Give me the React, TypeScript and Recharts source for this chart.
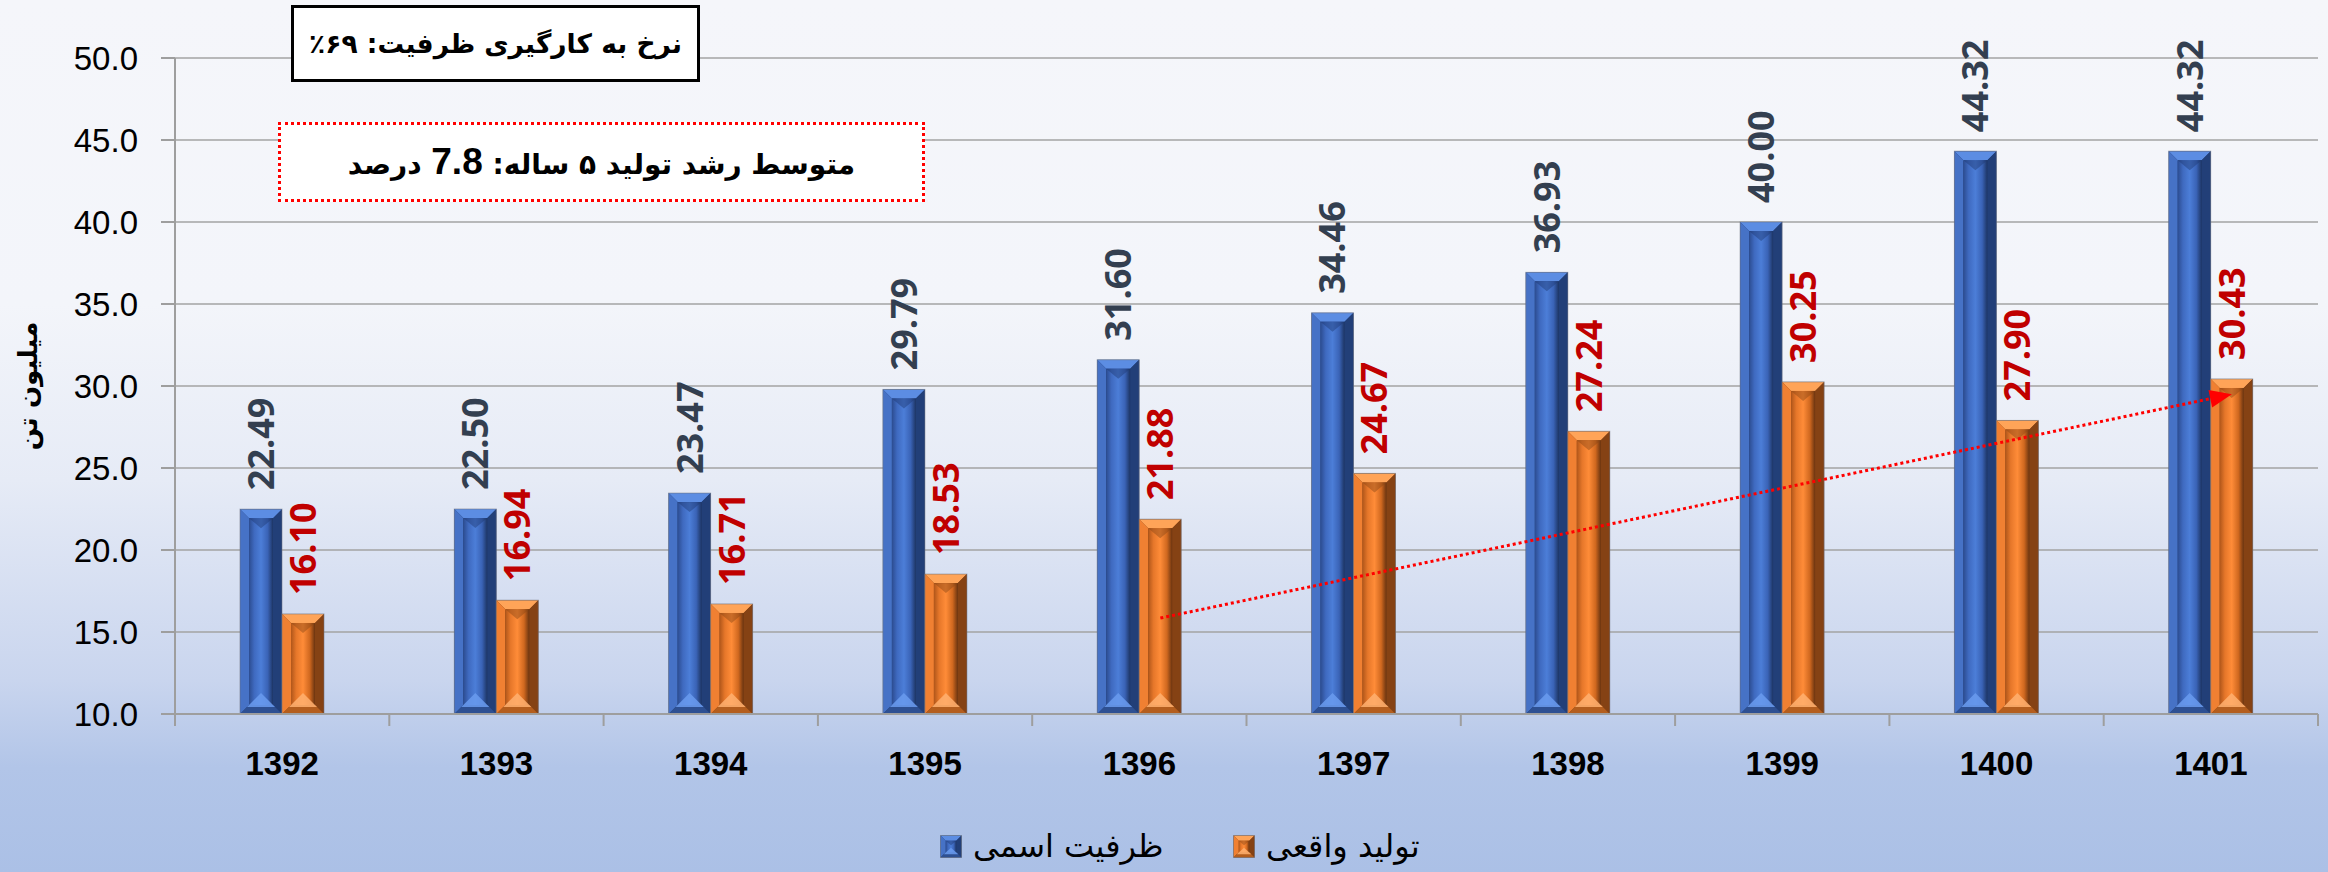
import React from 'react';
import { BarChart, Bar, XAxis, YAxis, CartesianGrid, LabelList, ReferenceLine } from 'recharts';

const categories = ['1392', '1393', '1394', '1395', '1396', '1397', '1398', '1399', '1400', '1401'];
const nominalCapacity = [22.49, 22.5, 23.47, 29.79, 31.6, 34.46, 36.93, 40.0, 44.32, 44.32];
const actualProduction = [16.1, 16.94, 16.71, 18.53, 21.88, 24.67, 27.24, 30.25, 27.9, 30.43];
const yTicks = [10, 15, 20, 25, 30, 35, 40, 45, 50];
const seriesNames = ['ظرفیت اسمی', 'تولید واقعی'];
const yAxisTitle = 'میلیون تن';
const trendFrom = { year: '1396', value: 15.85 };
const trendTo = { year: '1401', value: 29.5 };
const rateText = 'نرخ به کارگیری ظرفیت: ۶۹٪';
const growthPrefix = 'متوسط رشد تولید ۵ ساله: ';
const growthValue = '7.8';
const growthSuffix = ' درصد';

const data = categories.map((c, i) => ({ year: c, nominal: nominalCapacity[i], actual: actualProduction[i] }));

const W = 2328;
const H = 872;
const M = { top: 58, right: 10, left: 0, bottom: 0 };
const Y_AXIS_W = 175;
const X_AXIS_H = 158;
const BAR = 42;
const BAND = (W - Y_AXIS_W - M.right) / categories.length;

const PERSIAN = "'DejaVu Sans', 'Noto Sans', sans-serif";
const LATIN = "'Liberation Sans', Arial, sans-serif";
const LABEL_FONT = "'Open Sans', 'Liberation Sans', sans-serif";

type Palette = {
  stops: string[];
  top: string;
  left: string;
  right: string;
  bottom: string;
  glow: string;
  shade: string;
};

const BLUE: Palette = {
  stops: ['#2C4C90', '#3F6AC0', '#4C7ED8', '#3A63B6', '#1D3564'],
  top: '#5C8DE3',
  left: '#4672C6',
  right: '#223F78',
  bottom: '#2E5092',
  glow: '#6A9BEF',
  shade: '#1E3A73',
};
const ORANGE: Palette = {
  stops: ['#B0561A', '#E6772A', '#FF8C38', '#D0681F', '#6A3410'],
  top: '#FFA458',
  left: '#F08032',
  right: '#854214',
  bottom: '#B45E1E',
  glow: '#FFB070',
  shade: '#8A4616',
};

const BevelRect = ({ x, y, width: w, height: h, pal, id }: any) => {
  if (!(w > 0) || !(h > 0)) return null;
  const b = Math.min(9, w / 4, h / 4);
  const gid = `g-${id}`;
  return (
    <g>
      <defs>
        <linearGradient id={gid} x1="0" y1="0" x2="1" y2="0">
          <stop offset="0%" stopColor={pal.stops[0]} />
          <stop offset="22%" stopColor={pal.stops[1]} />
          <stop offset="50%" stopColor={pal.stops[2]} />
          <stop offset="78%" stopColor={pal.stops[3]} />
          <stop offset="100%" stopColor={pal.stops[4]} />
        </linearGradient>
      </defs>
      <rect x={x} y={y} width={w} height={h} fill={pal.right} />
      <polygon points={`${x},${y} ${x + w},${y} ${x + w - b},${y + b} ${x + b},${y + b}`} fill={pal.top} />
      <polygon points={`${x},${y} ${x + b},${y + b} ${x + b},${y + h - b} ${x},${y + h}`} fill={pal.left} />
      <polygon points={`${x + w},${y} ${x + w},${y + h} ${x + w - b},${y + h - b} ${x + w - b},${y + b}`} fill={pal.right} />
      <polygon points={`${x},${y + h} ${x + b},${y + h - b} ${x + w - b},${y + h - b} ${x + w},${y + h}`} fill={pal.bottom} />
      <rect x={x + b} y={y + b} width={w - 2 * b} height={h - 2 * b} fill={`url(#${gid})`} />
      <polygon
        points={`${x + b},${y + b} ${x + w - b},${y + b} ${x + w / 2},${y + b + Math.min(10, h / 5)}`}
        fill={pal.shade}
        opacity={0.45}
      />
      <polygon
        points={`${x + b - 2},${y + h - b + 2} ${x + w / 2},${y + h - b - Math.min(12, h / 5)} ${x + w - b + 2},${y + h - b + 2}`}
        fill={pal.glow}
        opacity={0.85}
      />
      <rect x={x} y={y} width={w} height={h} fill="none" stroke="#6E7280" strokeOpacity={0.55} strokeWidth={1} />
    </g>
  );
};

const BlueBar = (p: any) => <BevelRect {...p} pal={BLUE} id={`b${p.index}`} />;
const OrangeBar = (p: any) => <BevelRect {...p} pal={ORANGE} id={`o${p.index}`} />;

const makeLabel = (color: string) => (p: any) => {
  const { x, y, width, value } = p;
  const cx = x + width / 2;
  const fs = 36;
  const ax = cx + fs * 0.36;
  const ay = y - 19;
  return (
    <text
      x={ax}
      y={ay}
      transform={`rotate(-90 ${ax} ${ay})`}
      textAnchor="start"
      fill={color}
      fontFamily={LABEL_FONT}
      fontWeight={700}
      fontSize={fs}
    >
      {Number(value).toFixed(2)}
    </text>
  );
};

const XTick = (p: any) => {
  const { x, y, payload, index } = p;
  const left = x - BAND / 2;
  return (
    <g>
      <line x1={left} y1={y} x2={left} y2={y + 12} stroke="#9E9E9E" strokeWidth={2} />
      {index === categories.length - 1 && (
        <line x1={x + BAND / 2} y1={y} x2={x + BAND / 2} y2={y + 12} stroke="#9E9E9E" strokeWidth={2} />
      )}
      <text x={x} y={y + 61} textAnchor="middle" fontFamily={LATIN} fontWeight={700} fontSize={33} fill="#000">
        {payload.value}
      </text>
    </g>
  );
};

const YTitle = (p: any) => {
  const vb = p.viewBox || { x: 0, y: M.top, width: Y_AXIS_W, height: 656 };
  const tx = vb.x + 28;
  const ty = vb.y + vb.height / 2;
  return (
    <text
      x={tx}
      y={ty}
      transform={`rotate(-90 ${tx} ${ty})`}
      textAnchor="middle"
      dominantBaseline="central"
      fontFamily={PERSIAN}
      fontWeight={700}
      fontSize={26}
      fill="#000"
    >
      {yAxisTitle}
    </text>
  );
};

const TrendArrow = (p: any) => {
  const off = BAR / 2;
  const x1 = p.x1 + off;
  const y1 = p.y1;
  const x2 = p.x2 + off;
  const y2 = p.y2;
  const dx = x2 - x1;
  const dy = y2 - y1;
  const len = Math.sqrt(dx * dx + dy * dy);
  const ux = dx / len;
  const uy = dy / len;
  const head = 22;
  const half = 9;
  const bx = x2 - ux * head;
  const by = y2 - uy * head;
  return (
    <g>
      <line x1={x1} y1={y1} x2={bx} y2={by} stroke="#FF0000" strokeWidth={3} strokeDasharray="3 3" />
      <polygon
        points={`${x2},${y2} ${bx - uy * half},${by + ux * half} ${bx + uy * half},${by - ux * half}`}
        fill="#FF0000"
      />
    </g>
  );
};

const LegendIcon = ({ pal }: { pal: Palette }) => (
  <svg width={22} height={23} style={{ display: 'block' }}>
    <BevelRect x={0.5} y={0.5} width={21} height={22} pal={pal} id={pal === BLUE ? 'lb' : 'lo'} />
  </svg>
);

export default function App() {
  return (
    <div
      style={{
        position: 'absolute',
        left: 0,
        top: 0,
        width: W,
        height: H,
        overflow: 'hidden',
        background:
          'linear-gradient(to bottom, #F5F6FA 0%, #F3F5FA 35%, #E6EBF6 55%, #C9D5EE 78%, #B2C5E8 88%, #ABC0E6 100%)',
      }}
    >
      <BarChart width={W} height={H} data={data} margin={M} barGap={0} barSize={BAR}>
        <CartesianGrid vertical={false} stroke="#A3A3A3" strokeWidth={1.5} />
        <XAxis
          dataKey="year"
          height={X_AXIS_H}
          tickLine={false}
          tickSize={0}
          tickMargin={0}
          axisLine={{ stroke: '#9E9E9E', strokeWidth: 2 }}
          tick={<XTick />}
          interval={0}
        />
        <YAxis
          width={Y_AXIS_W}
          domain={[10, 50]}
          ticks={yTicks}
          allowDataOverflow
          tickFormatter={(v: number) => v.toFixed(1)}
          tickSize={14}
          tickMargin={23}
          tickLine={{ stroke: '#9E9E9E', strokeWidth: 2 }}
          axisLine={{ stroke: '#9E9E9E', strokeWidth: 2 }}
          tick={{ fontFamily: LATIN, fontSize: 33, fill: '#000' }}
          label={<YTitle />}
        />
        <Bar dataKey="nominal" name={seriesNames[0]} shape={<BlueBar />} isAnimationActive={false}>
          <LabelList dataKey="nominal" content={makeLabel('#333F50')} />
        </Bar>
        <Bar dataKey="actual" name={seriesNames[1]} shape={<OrangeBar />} isAnimationActive={false}>
          <LabelList dataKey="actual" content={makeLabel('#C00000')} />
        </Bar>
        <ReferenceLine
          segment={[
            { x: trendFrom.year, y: trendFrom.value },
            { x: trendTo.year, y: trendTo.value },
          ]}
          ifOverflow="visible"
          shape={TrendArrow}
        />
      </BarChart>

      <div
        style={{
          position: 'absolute',
          left: 291,
          top: 5,
          width: 409,
          height: 77,
          boxSizing: 'border-box',
          border: '3px solid #000',
          background: '#fff',
          display: 'flex',
          alignItems: 'center',
          justifyContent: 'center',
          direction: 'rtl',
          fontFamily: PERSIAN,
          fontWeight: 700,
          fontSize: 26.5,
          color: '#000',
          whiteSpace: 'nowrap',
        }}
      >
        {rateText}
      </div>

      <div
        style={{
          position: 'absolute',
          left: 278,
          top: 122,
          width: 647,
          height: 80,
          boxSizing: 'border-box',
          border: '3px dotted #FF0000',
          background: '#fff',
          display: 'flex',
          alignItems: 'center',
          justifyContent: 'center',
          direction: 'rtl',
          fontFamily: PERSIAN,
          fontWeight: 700,
          fontSize: 28,
          color: '#000',
          whiteSpace: 'nowrap',
        }}
      >
        <span>
          {growthPrefix}
          <span style={{ fontFamily: LATIN, fontSize: 37, fontWeight: 700 }}>{growthValue}</span>
          {growthSuffix}
        </span>
      </div>

      {[
        { left: 940, pal: BLUE, name: seriesNames[0] },
        { left: 1233, pal: ORANGE, name: seriesNames[1] },
      ].map((it) => (
        <div
          key={it.name}
          style={{
            position: 'absolute',
            left: it.left,
            top: 826,
            height: 40,
            display: 'flex',
            alignItems: 'center',
            gap: 11,
          }}
        >
          <LegendIcon pal={it.pal} />
          <span dir="rtl" style={{ fontFamily: PERSIAN, fontSize: 32, color: '#000', whiteSpace: 'nowrap' }}>
            {it.name}
          </span>
        </div>
      ))}
    </div>
  );
}
